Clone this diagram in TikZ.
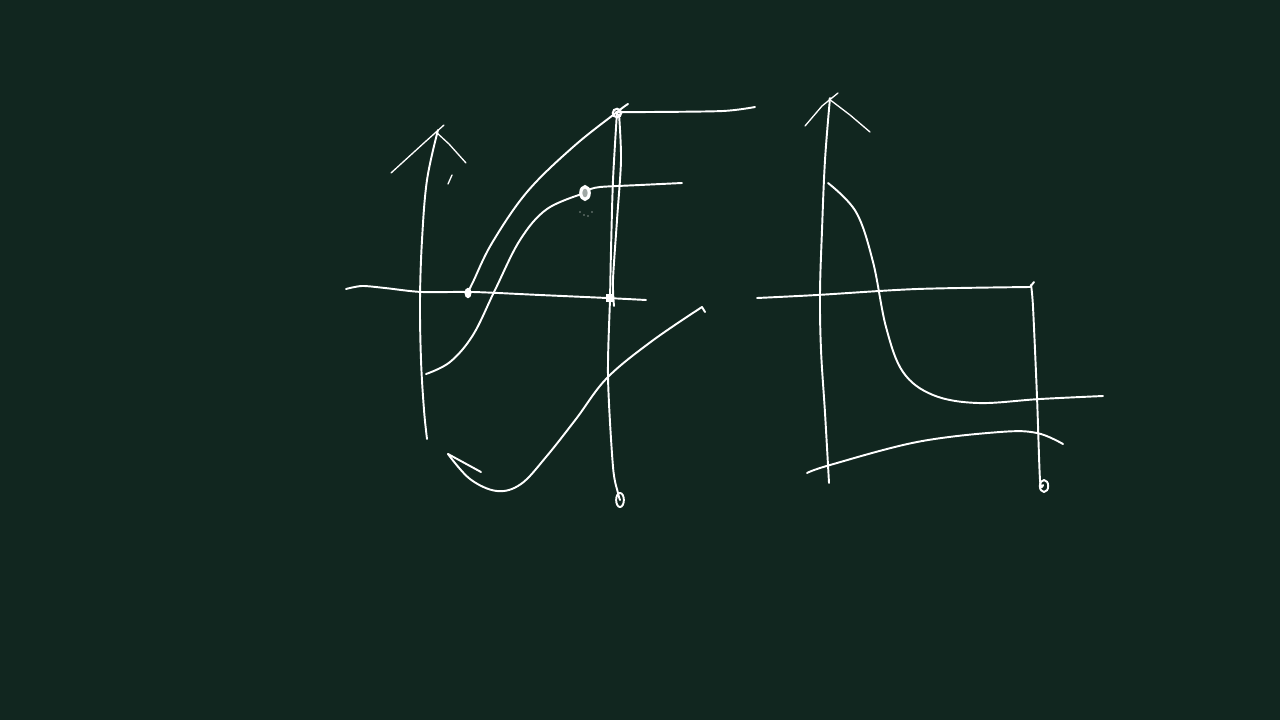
\documentclass[tikz,border=0pt]{standalone}
\usepackage{tikz}
\usetikzlibrary{calc}

\definecolor{board}{RGB}{17,38,31}

\begin{document}
\begin{tikzpicture}[x=0.02cm, y=-0.02cm,
    chalk/.style={white, line width=1.1pt, line cap=round, line join=round},
    thinchalk/.style={white, line width=0.75pt, line cap=round, line join=round},
    dot/.style={white, fill=white}]
  \fill[board] (0,0) rectangle (1280,720);

  \begin{scope}
    % Left axes
    \draw[chalk] plot[smooth, tension=0.6] coordinates {
      (427,439) (424,410) (421,360) (420,300) (422,240) (427,180) (438,130)
    };
    \draw[thinchalk] (391,173) -- (425,142) -- (444,125);
    \draw[thinchalk] (436,132) -- (449,144) -- (466,163);
    \draw[thinchalk] (448,184) -- (452,175);
    \draw[chalk] plot[smooth, tension=0.5] coordinates {
      (346,289) (362,286) (385,288) (422,292) (473,292) (540,295) (607,298) (646,300)
    };

    % Upper curve and level line
    \draw[chalk] plot[smooth, tension=0.6] coordinates {
      (468,292) (473,282) (492,243) (527,192) (573,147) (617,112) (628,104)
    };
    \draw[chalk] plot[smooth, tension=0.5] coordinates {
      (616,112) (650,112) (723,111) (755,107)
    };

    % Vertical drop line
    \draw[chalk] plot[smooth, tension=0.5] coordinates {
      (617,112) (613,180) (611,250) (610,298) (608,377) (613,467) (618,493) (620,500)
    };
    \draw[chalk] plot[smooth, tension=0.5] coordinates {
      (619,114) (621,160) (617,220) (613,280) (614,306)
    };
    \draw[chalk] (620,500) ellipse [x radius=2.2pt, y radius=4pt];

    % S-shaped curve
    \draw[chalk] plot[smooth, tension=0.6] coordinates {
      (426,374) (450,362) (473,335) (495,290) (520,240) (547,209) (585,193)
    };
    \draw[chalk] plot[smooth, tension=0.5] coordinates {
      (588,190) (600,187) (640,185) (682,183)
    };
    \draw[white, fill=white!60!board, line width=1.8pt] (585,193) ellipse [x radius=2.4pt, y radius=3.6pt];
    \fill[white] (580,212) circle (0.35pt) (584,215) circle (0.35pt)
      (588,216) circle (0.35pt) (592,212) circle (0.35pt);

    % Lower curve
    \draw[chalk] (481,472) -- (448,454);
    \draw[chalk] plot[smooth, tension=0.6] coordinates {
      (448,454) (470,479) (497,491) (521,484) (546,457) (576,419) (607,378) (652,341) (702,307)
    } -- (705,312);

    % Marked points
    \fill[dot] (468,293) ellipse [x radius=2pt, y radius=3pt];
    \fill[dot] (606,294) rectangle (614,302);
    \draw[white, line width=1.2pt] (617,113) circle (2.4pt);
  \end{scope}

  \begin{scope}
    % Right axes
    \draw[chalk] plot[smooth, tension=0.6] coordinates {
      (829,483) (825,413) (821,350) (820,293) (822,230) (825,160) (830,98)
    };
    \draw[thinchalk] (805,126) -- (822,106) -- (838,93);
    \draw[thinchalk] (829,99) -- (850,115) -- (870,132);
    \draw[chalk] plot[smooth, tension=0.5] coordinates {
      (757,298) (817,295) (917,289) (1030,287)
    } -- (1034,282);

    % Right drop line
    \draw[chalk] plot[smooth, tension=0.5] coordinates {
      (1031,285) (1033,307) (1037,397) (1040,480) (1043,485)
    };
    \draw[chalk] (1044,486) ellipse [x radius=2.4pt, y radius=3.4pt];

    % Decreasing curve
    \draw[chalk] plot[smooth, tension=0.6] coordinates {
      (828,183) (856,212) (873,262) (886,327) (903,372) (933,395) (978,403) (1040,399) (1103,396)
    };

    % Bottom curve
    \draw[chalk] plot[smooth, tension=0.6] coordinates {
      (807,473) (830,465) (917,442) (1000,432) (1037,433) (1063,444)
    };
  \end{scope}
\end{tikzpicture}
\end{document}
